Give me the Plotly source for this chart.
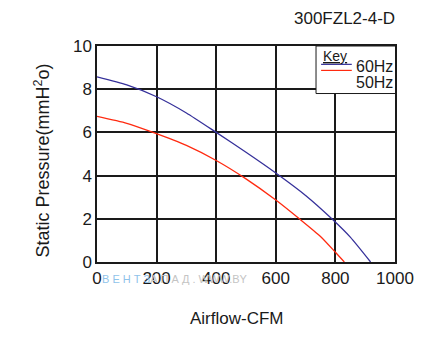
import plotly.graph_objects as go

# Data
flow_60 = [0, 100, 200, 300, 400, 500, 600, 700, 788, 850, 918]
pres_60 = [8.57, 8.2, 7.65, 6.9, 6.0, 5.08, 4.12, 3.08, 2.0, 1.15, 0.0]
flow_50 = [0, 100, 188, 300, 400, 500, 600, 679, 750, 800, 830]
pres_50 = [6.74, 6.42, 6.0, 5.4, 4.7, 3.85, 2.87, 2.0, 1.18, 0.45, 0.0]
x_ticks = [0, 200, 400, 600, 800, 1000]
y_ticks = [0, 2, 4, 6, 8, 10]
title_text = "300FZL2-4-D"
legend_labels = ["60Hz", "50Hz"]

BLUE = "#35309a"
RED = "#ff2a10"
FONT = "Liberation Sans, Arial, sans-serif"

fig = go.Figure()
fig.add_trace(go.Scatter(x=flow_60, y=pres_60, mode="lines",
                         line=dict(color=BLUE, width=1.3, shape="spline", smoothing=0.6),
                         name=legend_labels[0], showlegend=False))
fig.add_trace(go.Scatter(x=flow_50, y=pres_50, mode="lines",
                         line=dict(color=RED, width=1.3, shape="spline", smoothing=0.6),
                         name=legend_labels[1], showlegend=False))

axis_common = dict(showgrid=True, gridcolor="#1a1a1a", gridwidth=1.5, showline=True, linecolor="#1a1a1a",
                   linewidth=1.5, mirror=True, zeroline=False, ticks="",
                   tickfont=dict(family=FONT, size=17, color="#1a1a1a"))
fig.update_xaxes(range=[0, 1000], tickvals=x_ticks, **axis_common)
fig.update_yaxes(range=[0, 10], tickvals=y_ticks, **axis_common)

fig.update_layout(
    width=446, height=340, autosize=False,
    margin=dict(l=97, r=51, t=46, b=78),
    paper_bgcolor="white", plot_bgcolor="white",
    font=dict(family=FONT, color="#1a1a1a"),
)

# Title
fig.add_annotation(text=title_text, xref="paper", yref="paper", x=1.0, y=1.0, xshift=2, yshift=28,
                   xanchor="right", yanchor="middle", showarrow=False,
                   font=dict(family=FONT, size=17, color="#1a1a1a"))
# Axis titles
fig.add_annotation(text="Airflow-CFM", xref="paper", yref="paper", x=0.47, y=0, yshift=-56,
                   xanchor="center", yanchor="middle", showarrow=False,
                   font=dict(family=FONT, size=17, color="#1a1a1a"))
fig.add_annotation(text="Static Pressure(mmH<sup>2</sup>o)", xref="paper", yref="paper", x=0, xshift=-55, y=0.47,
                   xanchor="center", yanchor="middle", textangle=-90, showarrow=False,
                   font=dict(family=FONT, size=18, color="#1a1a1a"))
# Watermark
fig.add_annotation(text="<span style='color:#8fc3ea'>В Е Н Т З</span><span style='color:#c4c4c4'>А П А Д . WWW.BY</span>",
                   xref="paper", yref="paper", x=0.01, y=0, yshift=-17, xanchor="left", yanchor="middle",
                   showarrow=False, font=dict(family=FONT, size=11))

# Key box
fig.add_shape(type="rect", xref="x", yref="y", x0=735, x1=1005, y0=7.8, y1=10.0,
              line=dict(color="#1a1a1a", width=1), fillcolor="white", layer="above")
fig.add_annotation(text="<u>Key</u>", xref="x", yref="y", x=752, y=9.55, xanchor="left", yanchor="middle",
                   showarrow=False, font=dict(family=FONT, size=14, color="#1a1a1a"))
fig.add_shape(type="line", xref="x", yref="y", x0=752, x1=855, y0=9.15, y1=9.15, line=dict(color=BLUE, width=1.2))
fig.add_shape(type="line", xref="x", yref="y", x0=752, x1=855, y0=8.87, y1=8.87, line=dict(color=RED, width=1.2))
fig.add_annotation(text=legend_labels[0], xref="x", yref="y", x=862, y=9.05, xanchor="left", yanchor="middle",
                   showarrow=False, font=dict(family=FONT, size=16, color="#1a1a1a"))
fig.add_annotation(text=legend_labels[1], xref="x", yref="y", x=862, y=8.32, xanchor="left", yanchor="middle",
                   showarrow=False, font=dict(family=FONT, size=16, color="#1a1a1a"))

fig.write_html("out.html")
